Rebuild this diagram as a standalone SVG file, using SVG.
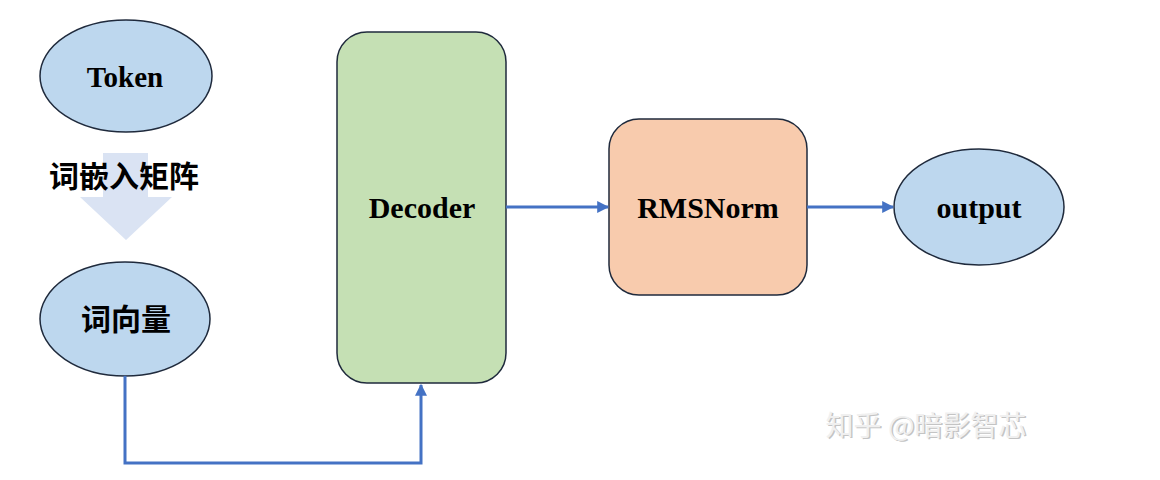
<svg xmlns="http://www.w3.org/2000/svg" width="1160" height="480" viewBox="0 0 1160 480">
<defs>
<marker id="ah" viewBox="0 0 10 10" refX="9" refY="5" markerWidth="4" markerHeight="4" markerUnits="strokeWidth" orient="auto">
<path d="M0,0 L10,5 L0,10 Z" fill="#4472c4"/>
</marker>
</defs>
<style>
.ell{fill:#bdd7ee;stroke:#1f2a3c;stroke-width:1.5}
.lbl{font-family:"Liberation Serif","Times New Roman",serif;font-weight:bold;font-size:30px;fill:#000;text-anchor:middle}
.cjk{font-family:"Noto Sans CJK SC","Liberation Sans",sans-serif;font-weight:bold;font-size:30px;fill:#000;text-anchor:middle}
.conn{fill:none;stroke:#4472c4;stroke-width:3}
.wm{font-family:"Noto Sans CJK SC","Liberation Sans",sans-serif;font-size:28px;text-anchor:middle}
</style>
<rect width="1160" height="480" fill="#ffffff"/>
<g id="token">
<ellipse class="ell" cx="126" cy="76" rx="86" ry="56"/>
<text class="lbl" x="125" y="87" style="font-size:29px">Token</text>
</g>
<g id="embed">
<polygon points="103,153 148,153 148,197 172,197 126,240 80,197 103,197" fill="#dae3f3"/>
<text class="cjk" x="124" y="187">词嵌入矩阵</text>
</g>
<g id="wordvec">
<ellipse class="ell" cx="125" cy="319" rx="85" ry="57"/>
<text class="cjk" x="126" y="330">词向量</text>
</g>
<g id="decoder">
<rect x="337" y="32" width="169" height="351" rx="30" ry="30" fill="#c5e0b4" stroke="#1f2a3c" stroke-width="1.5"/>
<text class="lbl" x="422" y="218">Decoder</text>
</g>
<g id="rmsnorm">
<rect x="609" y="119" width="198" height="176" rx="30" ry="30" fill="#f8cbad" stroke="#1f2a3c" stroke-width="1.5"/>
<text class="lbl" x="708" y="218">RMSNorm</text>
</g>
<g id="output">
<ellipse class="ell" cx="979" cy="207" rx="85" ry="58"/>
<text class="lbl" x="979" y="218">output</text>
</g>
<g id="connectors">
<polyline class="conn" points="125,376 125,463 421,463 421,385" marker-end="url(#ah)"/>
<line class="conn" x1="506" y1="207" x2="608" y2="207" marker-end="url(#ah)"/>
<line class="conn" x1="807" y1="207" x2="893" y2="207" marker-end="url(#ah)"/>
</g>
<g id="watermark">
<text class="wm" x="927.5" y="437" fill="#c4c4c4">知乎 @暗影智芯</text>
<text class="wm" x="926" y="435.5" fill="#f0f0f0">知乎 @暗影智芯</text>
</g>
</svg>
